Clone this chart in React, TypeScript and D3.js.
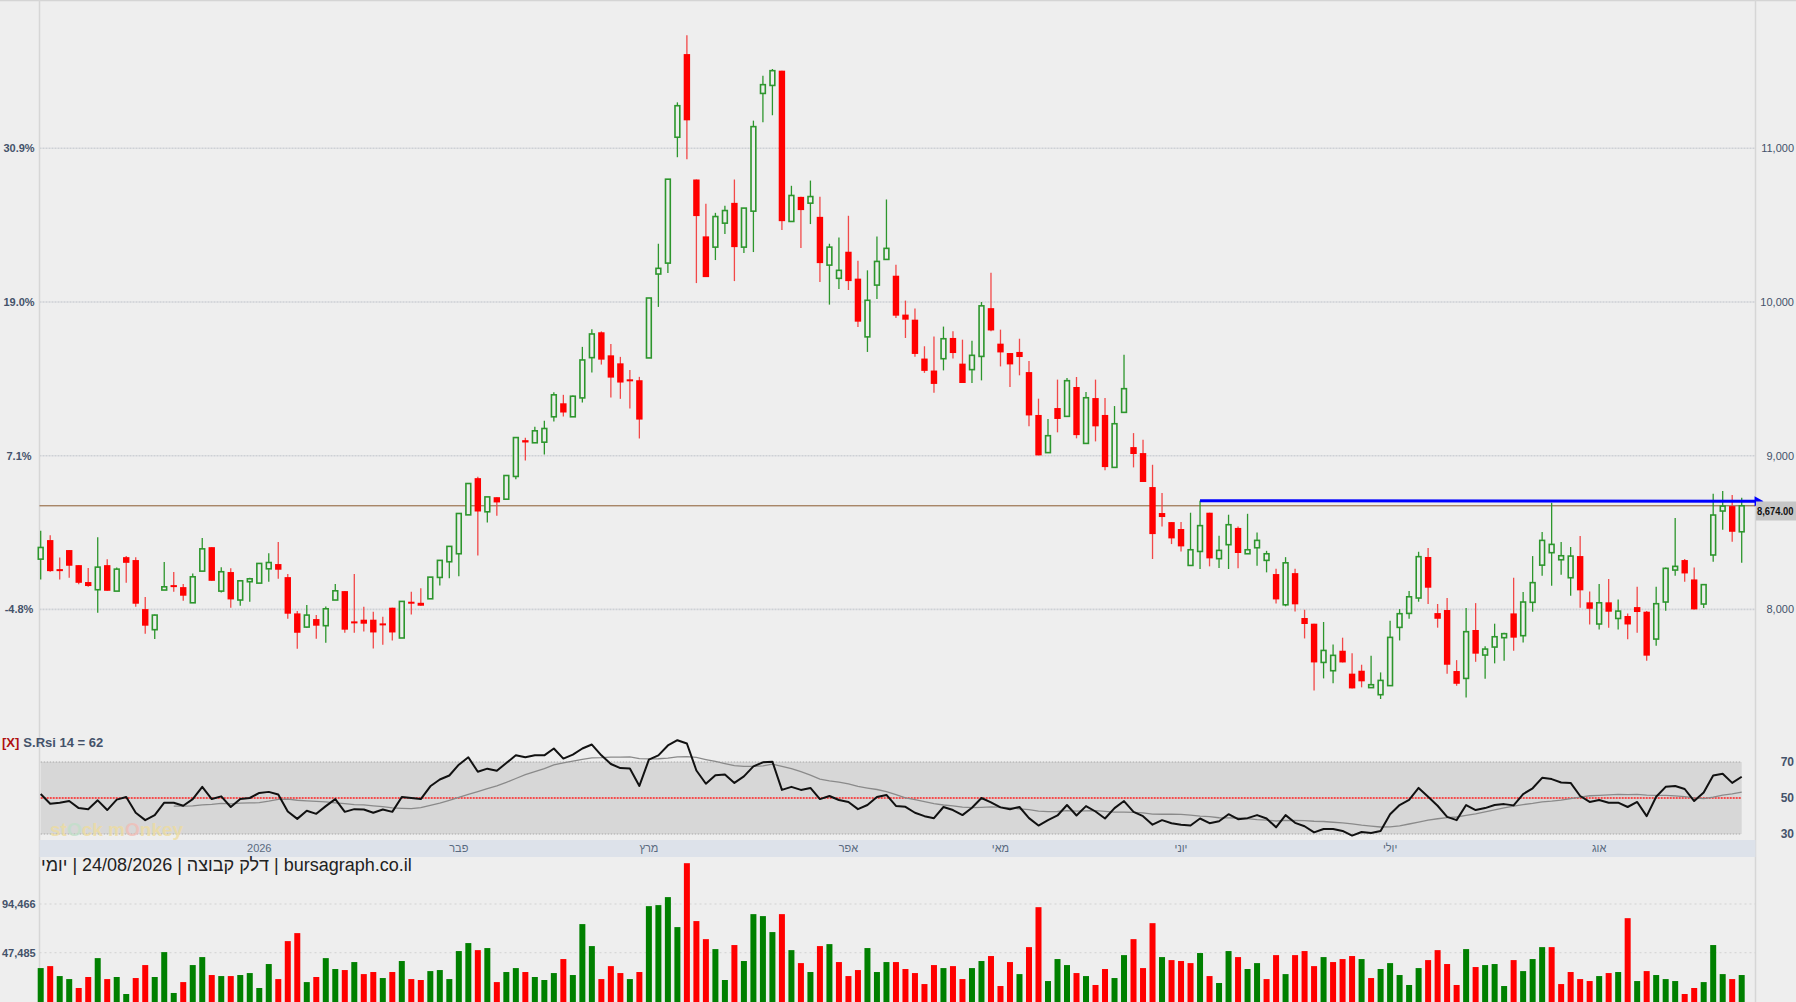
import React from 'react'
import * as d3 from 'd3'

// Daily candles, Dec 2025 - 24/08/2026
const opens = [
  8327, 8451, 8262, 8386, 8288, 8178, 8128, 8288, 8119, 8340, 8321, 8002, 7868, 8126, 8158, 8145, 8043, 8249, 8405, 8119,
  8243, 8061, 8180, 8171, 8264, 8295, 8210, 7974, 7885, 7937, 7894, 8061, 8119, 7922, 7933, 7933, 7909, 8011, 7814, 8050,
  8043, 8069, 8208, 8310, 8362, 8615, 8854, 8635, 8730, 8717, 8865, 9101, 9084, 9088, 9253, 9341, 9253, 9376, 9638, 9803,
  9653, 9601, 9497, 9491, 9636, 10182, 10253, 11072, 11613, 10797, 10427, 10357, 10513, 10645, 10357, 10591, 11357, 11409, 11505, 10524,
  10684, 10643, 10554, 10240, 10154, 10327, 10152, 9773, 10110, 10277, 10171, 9918, 9885, 9632, 9554, 9631, 9766, 9599, 9560, 9646,
  9960, 9729, 9668, 9675, 9544, 9265, 9020, 9310, 9256, 9447, 9080, 9375, 9265, 8924, 9282, 9056, 9017, 8796, 8627, 8568,
  8523, 8286, 8377, 8629, 8330, 8421, 8530, 8362, 8401, 8319, 8230, 8030, 8236, 7944, 7907, 7655, 7601, 7731, 7582, 7601,
  7491, 7445, 7504, 7883, 7974, 8074, 8341, 7976, 7996, 7599, 7551, 7866, 7703, 7755, 7816, 7974, 7829, 8046, 8288, 8369,
  8323, 8206, 8347, 8046, 7905, 8046, 7941, 7957, 8015, 7985, 7807, 8048, 8256, 8321, 8195, 8035, 8354, 8640, 8672, 8505,
]
const highs = [
  8511, 8483, 8338, 8386, 8288, 8269, 8470, 8327, 8273, 8347, 8340, 8080, 7967, 8308, 8243, 8165, 8234, 8464, 8405, 8275,
  8267, 8186, 8206, 8299, 8366, 8438, 8230, 7989, 8028, 7963, 8019, 8165, 8119, 8230, 8017, 7985, 7952, 8011, 8052, 8115,
  8137, 8210, 8319, 8410, 8624, 8819, 8863, 8732, 8730, 8871, 9118, 9116, 9188, 9227, 9413, 9396, 9391, 9708, 9822, 9809,
  9727, 9643, 9558, 9513, 10026, 10379, 10799, 11299, 11736, 10797, 10639, 10580, 10626, 10797, 10611, 11180, 11472, 11516, 11505, 10756,
  10684, 10790, 10684, 10379, 10420, 10561, 10268, 10206, 10426, 10667, 10242, 10009, 9957, 9712, 9775, 9840, 9810, 9755, 9748, 10000,
  10190, 9820, 9668, 9761, 9616, 9371, 9239, 9495, 9505, 9512, 9414, 9495, 9375, 9323, 9657, 9147, 9104, 8941, 8757, 8568,
  8568, 8629, 8707, 8629, 8479, 8616, 8540, 8622, 8501, 8381, 8264, 8340, 8264, 7998, 7907, 7918, 7772, 7816, 7714, 7640,
  7699, 7590, 7926, 8002, 8119, 8375, 8399, 8035, 8074, 7670, 8009, 8041, 7761, 7907, 7848, 8206, 8113, 8347, 8503, 8694,
  8438, 8406, 8477, 8117, 8165, 8197, 8065, 7974, 8147, 7989, 8147, 8273, 8594, 8328, 8273, 8163, 8753, 8770, 8744, 8727,
]
const lows = [
  8195, 8245, 8195, 8206, 8163, 8147, 7978, 8121, 8119, 8173, 8017, 7842, 7807, 8126, 8115, 8056, 8043, 8249, 8186, 8110,
  8011, 8024, 8050, 8171, 8180, 8199, 7939, 7744, 7879, 7809, 7783, 8061, 7848, 7848, 7857, 7746, 7770, 7798, 7814, 7967,
  8024, 8069, 8156, 8202, 8215, 8615, 8351, 8566, 8609, 8711, 8847, 8969, 9084, 9008, 9222, 9255, 9253, 9346, 9541, 9593,
  9378, 9370, 9307, 9112, 9636, 9968, 10188, 10942, 10929, 10123, 10162, 10273, 10442, 10136, 10318, 10325, 11169, 11215, 10468, 10524,
  10351, 10507, 10130, 9983, 10084, 10078, 9838, 9675, 10019, 10277, 9896, 9766, 9643, 9539, 9409, 9555, 9633, 9473, 9473, 9490,
  9810, 9581, 9447, 9523, 9191, 9002, 9020, 9152, 9256, 9113, 9080, 9093, 8905, 8924, 9282, 8924, 8829, 8328, 8540, 8425,
  8377, 8286, 8263, 8280, 8269, 8263, 8267, 8362, 8284, 8241, 8039, 8020, 7987, 7811, 7473, 7551, 7519, 7655, 7486, 7493,
  7491, 7417, 7504, 7798, 7939, 8050, 8035, 7881, 7581, 7503, 7427, 7659, 7549, 7649, 7666, 7731, 7785, 7985, 8219, 8154,
  8226, 8089, 8011, 7902, 7870, 7881, 7870, 7805, 7848, 7666, 7764, 7991, 8219, 8180, 8000, 8009, 8310, 8518, 8440, 8304,
]
const closes = [
  8403, 8249, 8254, 8284, 8173, 8152, 8275, 8121, 8262, 8303, 8037, 7894, 7963, 8147, 8150, 8089, 8212, 8394, 8186, 8245,
  8065, 8186, 8199, 8299, 8305, 8258, 7972, 7848, 7963, 7894, 8004, 8121, 7868, 7913, 7907, 7850, 7905, 7850, 8052, 8039,
  8024, 8210, 8319, 8410, 8624, 8819, 8637, 8732, 8696, 8871, 9118, 9086, 9162, 9177, 9396, 9281, 9387, 9623, 9792, 9625,
  9508, 9476, 9489, 9235, 10026, 10219, 10799, 11277, 11182, 10559, 10162, 10556, 10595, 10357, 10611, 11141, 11414, 11505, 10526, 10693,
  10598, 10686, 10253, 10357, 10206, 10136, 9872, 10011, 10264, 10349, 9911, 9885, 9662, 9552, 9467, 9761, 9668, 9473, 9653, 9975,
  9815, 9672, 9594, 9642, 9262, 9002, 9130, 9239, 9488, 9134, 9377, 9191, 8926, 9208, 9436, 9011, 8829, 8490, 8601, 8462,
  8410, 8388, 8545, 8332, 8384, 8551, 8367, 8388, 8449, 8362, 8065, 8303, 8033, 7905, 7655, 7733, 7701, 7655, 7486, 7532,
  7510, 7538, 7818, 7972, 8082, 8343, 8141, 7939, 7640, 7516, 7855, 7712, 7742, 7822, 7842, 7816, 8048, 8174, 8449, 8423,
  8349, 8347, 8124, 8004, 8043, 7985, 7989, 7902, 7983, 7699, 8037, 8267, 8280, 8234, 8000, 8161, 8614, 8672, 8505, 8674,
]
const volumes = [
  32700, 34600, 25000, 22100, 13500, 24100, 42300, 22100, 24100, 7700, 23100, 35600, 24100, 48100, 8700, 19200, 35600, 43300, 26000, 25000,
  25000, 26000, 27900, 13500, 36600, 22100, 58700, 66400, 19200, 24100, 42300, 31800, 30800, 38500, 26900, 28900, 23100, 28900, 39500, 22100,
  21200, 29800, 30800, 22100, 49100, 56800, 50000, 52000, 19200, 28900, 32700, 28900, 24100, 21200, 27900, 41400, 26000, 75100, 53900, 22100,
  34600, 27900, 22100, 28900, 92400, 93400, 101100, 72200, 133800, 78000, 60600, 51000, 21200, 54900, 39500, 84700, 82800, 67400, 84700, 50000,
  37500, 28900, 53900, 55800, 38500, 25000, 30800, 52000, 28900, 38500, 38500, 31800, 27900, 17300, 35600, 32700, 34600, 22100, 32700, 39500,
  44300, 15400, 38500, 26900, 52900, 91400, 20200, 41400, 35600, 27900, 25000, 16400, 31800, 23100, 45200, 60600, 32700, 76000, 43300, 40400,
  39500, 37500, 47200, 25000, 18300, 49100, 43300, 31800, 37500, 22100, 45200, 26900, 45200, 49100, 34600, 43300, 38500, 41400, 44300, 41400,
  23100, 31800, 37500, 26000, 16400, 32700, 40400, 50000, 36600, 16400, 51000, 33700, 35600, 36600, 15400, 40400, 29800, 41400, 52900, 52900,
  17300, 28900, 22100, 20200, 25000, 27900, 28900, 80800, 20200, 29800, 26000, 22100, 20200, 7700, 13500, 19200, 54900, 26900, 22100, 26000,
]
// S.Rsi 14 as plotted
const rsi = [
  52.2, 46.8, 47.4, 48.3, 44.4, 43.8, 48.7, 43.3, 49.1, 50.6, 41.8, 37.7, 40.5, 47.4, 47.4, 45.7, 49.4, 56.2, 49.4, 50.9,
  45.0, 49.4, 50.0, 52.8, 53.4, 51.9, 42.5, 38.4, 42.9, 41.2, 45.5, 49.4, 42.3, 43.8, 43.6, 41.8, 43.6, 42.3, 50.6, 50.0,
  49.4, 56.5, 60.3, 62.5, 68.5, 72.6, 64.6, 66.3, 65.1, 69.4, 73.7, 72.6, 73.7, 73.7, 77.5, 71.9, 74.1, 77.5, 79.7, 73.7,
  68.9, 66.6, 66.4, 56.7, 71.3, 73.7, 79.2, 82.1, 80.3, 65.3, 57.9, 62.7, 63.1, 58.4, 62.0, 67.6, 69.8, 70.2, 54.5, 56.2,
  54.5, 55.6, 49.4, 51.1, 48.9, 47.8, 43.8, 46.1, 50.6, 51.7, 45.6, 45.1, 41.8, 39.9, 38.8, 45.0, 43.3, 40.5, 44.6, 50.0,
  47.6, 44.8, 43.8, 45.0, 38.8, 34.7, 37.7, 40.3, 46.1, 40.3, 45.5, 42.5, 38.6, 44.4, 48.3, 42.3, 39.9, 35.2, 37.7, 36.0,
  35.2, 34.7, 38.6, 36.0, 37.1, 41.0, 38.2, 38.8, 40.5, 38.6, 33.7, 40.5, 36.2, 34.3, 30.9, 32.8, 32.8, 31.7, 29.1, 31.1,
  30.6, 31.7, 41.0, 46.1, 48.9, 55.6, 50.7, 45.7, 39.5, 37.7, 46.1, 43.3, 44.4, 46.1, 46.6, 45.9, 52.2, 55.4, 61.2, 60.5,
  58.6, 58.4, 51.1, 47.8, 48.9, 47.4, 47.4, 45.0, 47.8, 39.9, 50.7, 56.2, 56.7, 55.0, 48.3, 53.0, 62.5, 63.5, 58.4, 61.8,
]

const priceTicks = [8000, 9000, 10000, 11000]
const rsiTicks = [30, 50, 70]
const volTicks = [47485, 94466]
const monthLabels = ['2026', 'פבר', 'מרץ', 'אפר', 'מאי', 'יוני', 'יולי', 'אוג']
const monthStarts = [23, 44, 64, 85, 101, 120, 142, 164]
const lastPrice = 8674
const trendStart = { i: 122, p: 8707 }
const trendEnd = { i: 181.3, p: 8703 }

const W = 1796
const H = 1002
const BG = '#eeeeee'
const UP = '#2d962d'
const DOWN = '#ff0000'
const AXIS_TEXT = '#44526a'

const App: React.FC = () => {
  const x = d3.scaleLinear().domain([0, closes.length - 1]).range([40.7, 1741.7])
  const y = d3.scaleLinear().domain([8000, 11000]).range([609.4, 148.3])
  const yR = d3.scaleLinear().domain([30, 70]).range([834, 762])
  const yV = d3.scaleLinear().domain([0, 94466]).range([1002, 904])

  const base = closes[0]
  const bodyW = 6.4

  // signal line = 14 period average of the RSI
  const signal = rsi.map((_, i) => (i < 14 ? null : d3.mean(rsi.slice(i - 13, i + 1)) as number))

  const rsiLine = d3.line<number>().x((_, i) => x(i)).y(d => yR(d))
  const sigLine = d3
    .line<number | null>()
    .defined(d => d !== null)
    .x((_, i) => x(i))
    .y(d => yR(d as number))

  const leftAxis = 39.5
  const rightAxis = 1755.5

  const tx1 = x(trendStart.i)
  const ty1 = y(trendStart.p)
  const tx2 = x(trendEnd.i)
  const ty2 = y(trendEnd.p)

  return (
    <div style={{ position: 'absolute', left: 0, top: 0 }}>
      <svg width={W} height={H} style={{ display: 'block', fontFamily: 'Arial, "Liberation Sans", sans-serif' }}>
        <rect x={0} y={0} width={W} height={H} fill={BG} />
        <line x1={0} x2={W} y1={0.5} y2={0.5} stroke="#d4d4d4" strokeWidth={1.5} />

        {/* price grid */}
        {priceTicks.map(t => (
          <g key={t}>
            <line x1={leftAxis} x2={rightAxis} y1={y(t)} y2={y(t)} stroke="#cdd0d5" strokeWidth={1.6} strokeDasharray="2 1" />
            <text x={1794} y={y(t) + 4} textAnchor="end" fontSize={11} fill={AXIS_TEXT}>
              {d3.format(',')(t)}
            </text>
            <text x={19} y={y(t) + 4} textAnchor="middle" fontSize={11} fontWeight="bold" fill={AXIS_TEXT}>
              {((t / base - 1) * 100).toFixed(1) + '%'}
            </text>
          </g>
        ))}

        {/* axes */}
        <line x1={leftAxis} x2={leftAxis} y1={0} y2={H} stroke="#d6d6d6" strokeWidth={1.5} />
        <line x1={rightAxis} x2={rightAxis} y1={0} y2={H} stroke="#d6d6d6" strokeWidth={1.5} />

        {/* last price line */}
        <line x1={leftAxis} x2={rightAxis} y1={y(lastPrice)} y2={y(lastPrice)} stroke="#8a5a30" strokeWidth={1} />

        {/* candles */}
        {closes.map((c, i) => {
          const o = opens[i]
          const up = c >= o
          const cx = x(i)
          const top = y(Math.max(o, c))
          const bot = y(Math.min(o, c))
          return (
            <g key={i}>
              <line x1={cx} x2={cx} y1={y(highs[i])} y2={y(lows[i])} stroke={up ? UP : '#f24848'} strokeWidth={1.3} />
              {up ? (
                <rect x={cx - bodyW / 2 + 0.8} y={top} width={bodyW - 1.6} height={Math.max(1.5, bot - top)} fill={BG} stroke={UP} strokeWidth={1.6} />
              ) : (
                <rect x={cx - bodyW / 2} y={top} width={bodyW} height={Math.max(2, bot - top)} fill={DOWN} />
              )}
            </g>
          )
        })}

        {/* trend line */}
        <line x1={tx1} x2={tx2 - 6} y1={ty1} y2={ty2} stroke="#0000ff" strokeWidth={3} />
        <polygon points={`${tx2},${ty2} ${tx2 - 9},${ty2 - 5} ${tx2 - 9},${ty2 + 5}`} fill="#0000ff" />

        {/* last price tag */}
        <rect x={1756} y={501.5} width={40} height={19} fill="#c6c6c6" />
        <text x={1757} y={515} fontSize={10.5} fontWeight="bold" fill="#111" textLength={36.5} lengthAdjust="spacingAndGlyphs">
          {d3.format(',.2f')(lastPrice)}
        </text>

        {/* RSI panel */}
        <text x={2} y={747} fontSize={13} fontWeight="bold">
          <tspan fill="#b01010">[X]</tspan>
          <tspan fill={AXIS_TEXT} dx={4}>{`S.Rsi 14 = ${Math.round(rsi[rsi.length - 1])}`}</tspan>
        </text>
        <rect x={x(0)} y={yR(70)} width={x(closes.length - 1) - x(0)} height={yR(30) - yR(70)} fill="#d7d7d7" />
        <line x1={x(0)} x2={x(closes.length - 1)} y1={yR(70)} y2={yR(70)} stroke="#a8a8a8" strokeWidth={1} strokeDasharray="1.5 1.5" />
        <line x1={x(0)} x2={x(closes.length - 1)} y1={yR(30)} y2={yR(30)} stroke="#a8a8a8" strokeWidth={1} strokeDasharray="1.5 1.5" />
        <text x={50} y={836} fontSize={19} fontWeight="bold" fill="#eedc9c" opacity={0.75}>
          st<tspan fill="#bfe0c8">O</tspan>ck m<tspan fill="#f2bcb4">O</tspan>nkey
        </text>
        <line x1={x(0)} x2={x(closes.length - 1)} y1={yR(50)} y2={yR(50)} stroke="#ff2020" strokeWidth={1.5} strokeDasharray="2 1" />
        <path d={sigLine(signal) || ''} fill="none" stroke="#8a8a8a" strokeWidth={1.3} />
        <path d={rsiLine(rsi) || ''} fill="none" stroke="#111" strokeWidth={2} strokeLinejoin="round" />
        {rsiTicks.map(t => (
          <text key={t} x={1794} y={yR(t) + 4} textAnchor="end" fontSize={12} fontWeight="bold" fill={AXIS_TEXT}>
            {t}
          </text>
        ))}

        {/* date band */}
        <rect x={leftAxis} y={840} width={rightAxis - leftAxis} height={17} fill="#dde2ea" />
        {monthLabels.map((m, k) => (
          <text key={m} x={x(monthStarts[k])} y={852} textAnchor="middle" fontSize={11} fill="#5a6a80">
            {m}
          </text>
        ))}

        {/* title */}
        <text x={41} y={871} fontSize={18} fill="#222">
          {'יומי\u200E | 24/08/2026 | דלק קבוצה\u200E | bursagraph.co.il'}
        </text>

        {/* volume */}
        {volTicks.map(t => (
          <g key={t}>
            <line x1={leftAxis} x2={rightAxis} y1={yV(t)} y2={yV(t)} stroke="#d2d2d2" strokeWidth={1} strokeDasharray="2 3" />
            <text x={2} y={yV(t) + 4} fontSize={11} fontWeight="bold" fill={AXIS_TEXT}>
              {d3.format(',')(t)}
            </text>
          </g>
        ))}
        {volumes.map((v, i) => {
          const up = i === 0 ? closes[0] >= opens[0] : closes[i] >= closes[i - 1]
          return (
            <rect key={i} x={x(i) - 3} y={yV(v)} width={6} height={yV(0) - yV(v)} fill={up ? '#008000' : '#ff0000'} />
          )
        })}
      </svg>
    </div>
  )
}

export default App
